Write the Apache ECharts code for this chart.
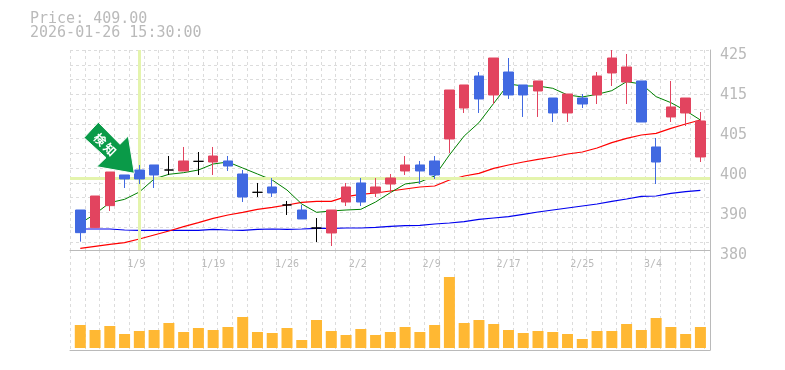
<!DOCTYPE html>
<html><head><meta charset="utf-8">
<style>html,body{margin:0;padding:0;background:#fff}#c{width:785px;height:370px}</style>
<script src="https://cdn.jsdelivr.net/npm/echarts@6/dist/echarts.min.js"></script>
</head><body><div id="c"></div>
<script>
const titleLines = ['Price: 409.00', '2026-01-26 15:30:00'];
const signalLabel = '検\u2009知';
const categories = ['1/5','1/6','1/7','1/8','1/9','1/13','1/14','1/15','1/16','1/19','1/20','1/21','1/22','1/23','1/26','1/27','1/28','1/29','1/30','2/2','2/3','2/4','2/5','2/6','2/9','2/10','2/12','2/13','2/16','2/17','2/18','2/19','2/20','2/24','2/25','2/26','2/27','3/2','3/3','3/4','3/5','3/6','3/9'];
const xTickLabels = ['1/9','1/19','1/26','2/2','2/9','2/17','2/25','3/4'];
const yTickLabels = ['380','390','400','405','415','425'];
// [open, close, low, high]
const ohlc = [
[389,383.9,381.88,389],[385.03,392.15,385.03,392.15],[389.98,397.55,388.78,397.55],[396.88,395.98,393.95,396.88],
[398,395.98,394.85,399.13],[399.13,396.88,393.95,399.13],[398,398,396.88,401.15],[397.78,400.03,397.78,403.18],
[399.95,399.95,396.88,402.05],[399.8,401.15,396.88,403.18],[400.03,398.9,397.78,401.15],[397.1,391.93,390.8,398],
[392.98,392.98,391.93,395.08],[394.18,392.83,391.93,396.2],[390.13,390.13,387.88,391.03],[389,386.98,386.98,390.13],
[384.95,384.95,381.8,387.2],[383.83,389,380.9,389],[390.8,394.18,389.9,395.08],[395.08,390.8,389.9,396.2],
[392.83,394.18,391.93,396.2],[394.85,396.2,392.83,397.1],[397.78,399.13,396.88,401.15],[399.13,397.78,394.85,400.03],
[400.03,396.88,395.98,401.15],[404.98,416,401.83,416],[411.95,417.13,410.83,417.13],[419.15,413.98,410.83,420.05],
[414.88,423.2,412.85,423.2],[420.05,414.88,413.98,423.2],[417.13,414.88,409.93,417.13],[415.78,418.03,409.93,418.03],
[414.2,410.83,408.8,414.2],[410.83,415.1,408.8,415.1],[414.2,412.85,411.95,415.1],[414.88,419.15,412.85,420.05],
[419.83,423.2,416.9,425],[417.8,421.18,412.85,424.1],[418.03,408.8,408.8,418.03],[403.18,399.8,394.85,405.2],
[409.93,412.18,408.8,418.03],[410.83,414.2,407.9,414.2],[400.93,409.03,399.8,411.05]];
const maShort = [386,388.1,390.65,391.4,393.05,395.98,397.03,397.4,398,399.35,399.8,398.45,397.1,395.75,393.5,390.35,388.48,388.78,389,389.15,390.8,392.9,394.85,395.3,396.65,401.38,405.65,408.65,413,417.35,416.9,416.9,416.38,414.88,414.43,415.03,415.85,417.88,417.35,414.5,413.15,411.35,409.25];
const maMid = [380.38,380.83,381.28,381.65,382.48,383.38,384.28,385.25,386.15,387.13,387.88,388.48,389.15,389.6,390.13,390.73,390.95,390.95,392,392.53,392.83,393.28,393.73,394.18,394.4,395.75,396.65,397.25,398.38,399.13,399.8,400.4,400.93,401.6,402.05,402.95,404.15,405.13,405.88,406.25,407.38,408.35,409.25];
const maLong = [384.73,384.73,384.73,384.5,384.43,384.43,384.43,384.43,384.43,384.65,384.5,384.43,384.65,384.73,384.65,384.73,384.88,384.88,384.95,384.95,385.1,385.33,385.48,385.55,385.85,386.08,386.38,386.9,387.2,387.5,388.03,388.55,389,389.45,389.9,390.35,390.95,391.48,392.08,392.15,392.75,393.13,393.43];
const volumes = [23,18,22,14,17,18,25,16,20,18,21,31,16,15,20,8,28,17,13,19,13,16,21,16,23,71,25,28,24,18,15,17,16,14,9,17,17,24,18,30,21,14,21];
const crossPrice = 396.1;
const crossCategory = '1/9';

const GREY = '#bababa', GRIDC = '#dcdcdc', CROSS = '#e4f4ad';
const CELL = 14.76;
const dashed = {show:true, lineStyle:{color:GRIDC, width:1, type:[3,3]}};
const none = {show:false};
const solidAxis = {show:true, onZero:false, lineStyle:{color:GREY, width:1}};
const chart = echarts.init(document.getElementById('c'), null, {renderer:'canvas'});
chart.setOption({
  animation:false,
  backgroundColor:'#fff',
  title:{left:30, top:12, text:titleLines.join('\n'), padding:0,
    textStyle:{fontFamily:'"DejaVu Sans Mono"', fontSize:15, fontWeight:'normal', color:GREY, lineHeight:14}},
  grid:[
    {left:70, top:50, width:640, height:200},
    {left:70, top:250, width:640, height:100},
    {left:72.9, top:50, width:634.9, height:200},
    {left:72.9, top:250, width:634.9, height:98}
  ],
  xAxis:[
    {type:'value', gridIndex:0, min:0, max:640/CELL, interval:1, axisLine:solidAxis, axisTick:none, axisLabel:none, splitLine:dashed},
    {type:'value', gridIndex:1, min:0, max:640/CELL, interval:1, axisLine:solidAxis, axisTick:none, axisLabel:none, splitLine:dashed},
    {type:'category', gridIndex:2, data:categories, axisLine:none, axisTick:none, splitLine:none,
      axisLabel:{show:true, margin:9, color:GREY, fontFamily:'"DejaVu Sans Mono"', fontSize:10,
        interval:(i,v)=>xTickLabels.includes(v), hideOverlap:false,
        formatter:(v)=>v.padEnd(4,' ')}},
    {type:'category', gridIndex:3, data:categories, axisLine:none, axisTick:none, axisLabel:none, splitLine:none}
  ],
  yAxis:[
    {type:'value', gridIndex:0, position:'right', min:380, max:425, interval:9, axisLine:solidAxis, axisTick:none, splitLine:none,
      axisLabel:{show:true, margin:10, color:GREY, fontFamily:'"DejaVu Sans Mono"', fontSize:15, verticalAlign:'top', lineHeight:10,
        formatter:(v)=>yTickLabels[Math.round((v-380)/9)]}},
    {type:'value', gridIndex:0, position:'left', inverse:true, min:0, max:200/CELL, interval:1, axisLine:none, axisTick:none, axisLabel:none, splitLine:dashed},
    {type:'value', gridIndex:1, position:'right', min:0, max:1, axisLine:solidAxis, axisTick:none, axisLabel:none, splitLine:none},
    {type:'value', gridIndex:2, min:380, max:425, axisLine:none, axisTick:none, axisLabel:none, splitLine:none},
    {type:'value', gridIndex:3, min:0, max:98, axisLine:none, axisTick:none, axisLabel:none, splitLine:none}
  ],
  series:[
    {type:'line', xAxisIndex:0, yAxisIndex:0, data:[], z:1, silent:true,
      markLine:{silent:true, symbol:'none', label:none, animation:false,
        lineStyle:{color:CROSS, width:3, type:'solid'}, data:[{yAxis:crossPrice}]}},
    {type:'line', xAxisIndex:2, yAxisIndex:3, data:[], z:1, silent:true,
      markLine:{silent:true, symbol:'none', label:none, animation:false,
        lineStyle:{color:CROSS, width:3, type:'solid'}, data:[{xAxis:crossCategory}]}},
    {type:'line', name:'MA long', xAxisIndex:2, yAxisIndex:3, data:maLong, showSymbol:false, z:2, lineStyle:{color:'#0000ee', width:1.2}},
    {type:'line', name:'MA mid', xAxisIndex:2, yAxisIndex:3, data:maMid, showSymbol:false, z:2, lineStyle:{color:'#ff0000', width:1.2}},
    {type:'line', name:'MA short', xAxisIndex:2, yAxisIndex:3, data:maShort, showSymbol:false, z:2, lineStyle:{color:'#008000', width:1}},
    {type:'candlestick', name:'Price', xAxisIndex:2, yAxisIndex:3, data:ohlc, barWidth:10, z:5,
      itemStyle:{color:'#e2445f', color0:'#4169e1', borderColor:'#e2445f', borderColor0:'#4169e1', borderColorDoji:'#000000', borderWidth:1}},
    {type:'bar', name:'Volume', xAxisIndex:3, yAxisIndex:4, data:volumes, barWidth:11, z:5, itemStyle:{color:'#ffb833'}}
  ],
  graphic:[
    {type:'polygon', z:20, shape:{points:[[84,137.7],[98.3,122.3],[120,144.3],[128.3,136],[134.3,173.3],[96.7,166.7],[106,157.7]]},
      style:{fill:'#0a9a48', stroke:'#ffffff', lineWidth:1}},
    {type:'text', z:21, x:105, y:144.5, rotation:-Math.PI/4,
      style:{text:signalLabel, fill:'#ffffff', font:'bold 12px "Noto Sans CJK JP"', align:'center', verticalAlign:'middle'}}
  ]
});
</script></body></html>
